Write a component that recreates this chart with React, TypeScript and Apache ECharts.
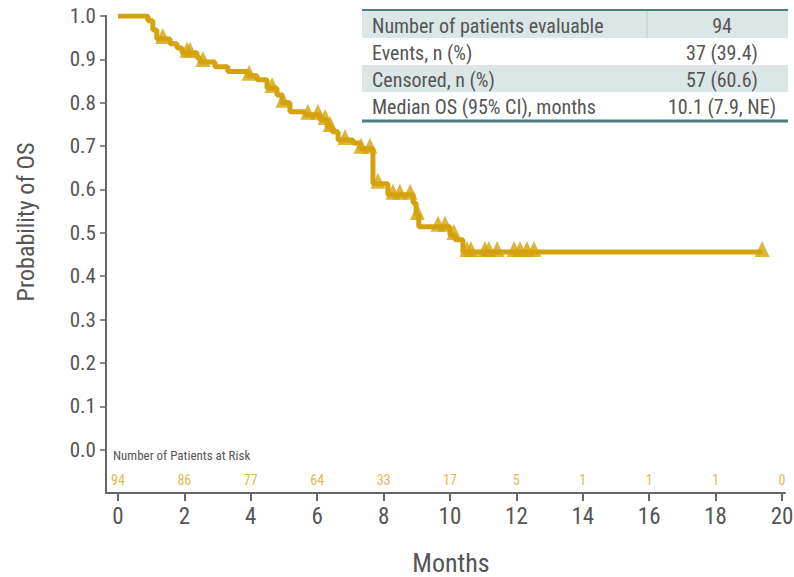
import React, { useEffect, useRef } from "react";
import * as echarts from "echarts";

// Kaplan-Meier steps: time (months) at which survival drops, and survival after the drop
const eventTimes = [0.9, 1.05, 1.17, 1.57, 1.78, 1.93, 2.38, 2.47, 2.92, 3.31, 3.92, 4.19, 4.49, 4.79, 4.94, 5.18, 5.63, 6.08, 6.3, 6.45, 6.63, 7.08, 7.29, 7.68, 8.13, 8.89, 8.98, 9.06, 10.0, 10.15, 10.39];
const eventSurv = [0.989, 0.968, 0.947, 0.936, 0.926, 0.915, 0.904, 0.894, 0.883, 0.872, 0.862, 0.853, 0.834, 0.818, 0.8, 0.779, 0.772, 0.76, 0.744, 0.733, 0.714, 0.707, 0.694, 0.613, 0.588, 0.569, 0.541, 0.514, 0.495, 0.484, 0.456];
const lastFollowUp = 19.4;
// Censored observations (months)
const censorTimes = [1.35, 2.08, 2.17, 2.56, 3.95, 4.64, 4.97, 5.72, 6.02, 6.24, 6.39, 6.84, 7.32, 7.59, 7.83, 8.28, 8.49, 8.8, 9.02, 9.64, 9.85, 10.12, 10.51, 10.63, 11.05, 11.17, 11.42, 11.93, 12.11, 12.32, 12.53, 19.4];

const xTicks = [0, 2, 4, 6, 8, 10, 12, 14, 16, 18, 20];
const yTicks = [0, 0.1, 0.2, 0.3, 0.4, 0.5, 0.6, 0.7, 0.8, 0.9, 1.0];
const atRiskTimes = [0, 2, 4, 6, 8, 10, 12, 14, 16, 18, 20];
const atRiskCounts = [94, 86, 77, 64, 33, 17, 5, 1, 1, 1, 0];

const tableLabels = ["Number of patients evaluable", "Events, n (%)", "Censored, n (%)", "Median OS (95% CI), months"];
const tableValues = ["94", "37 (39.4)", "57 (60.6)", "10.1 (7.9, NE)"];

const GOLD = "#d4a20c";
const GRAY = "#555555";
const AXIS = "#666666";
const TEAL = "#4a7f80";
const SHADE = "#dbe6e6";
const FONT = "'Liberation Sans Narrow', 'Roboto Condensed', 'Arial Narrow', sans-serif";

function survAt(t: number): number {
  let s = 1;
  for (let i = 0; i < eventTimes.length; i++) if (eventTimes[i] <= t) s = eventSurv[i];
  return s;
}

export default function App() {
  const ref = useRef<HTMLDivElement>(null);
  useEffect(() => {
    if (!ref.current) return;
    const chart = echarts.init(ref.current, null, { renderer: "svg" });
    const stepData: number[][] = [[0, 1]];
    eventTimes.forEach((t, i) => stepData.push([t, eventSurv[i]]));
    stepData.push([lastFollowUp, survAt(lastFollowUp)]);
    const censorData = censorTimes.map((t) => [t, survAt(t)]);
    const riskData = atRiskTimes.map((t, i) => [t, -0.069, atRiskCounts[i]]);

    const rowTop = [11, 38, 65, 92];
    const rowH = 27;
    const graphics: any[] = [];
    [0, 2].forEach((r) =>
      graphics.push({ type: "rect", shape: { x: 362, y: rowTop[r], width: 426, height: rowH }, style: { fill: SHADE }, silent: true })
    );
    graphics.push({ type: "line", shape: { x1: 647, y1: rowTop[0], x2: 647, y2: rowTop[0] + rowH }, style: { stroke: "#bcd0d0", lineWidth: 1 } });
    graphics.push({ type: "line", shape: { x1: 362, y1: 10, x2: 788, y2: 10 }, style: { stroke: TEAL, lineWidth: 2 } });
    graphics.push({ type: "line", shape: { x1: 362, y1: 121, x2: 788, y2: 121 }, style: { stroke: TEAL, lineWidth: 3 } });
    tableLabels.forEach((lab, i) => {
      graphics.push({ type: "text", x: 372, y: rowTop[i] + rowH / 2 + 1, style: { text: lab, fill: GRAY, font: `20px ${FONT}`, align: "left", verticalAlign: "middle" } });
      graphics.push({ type: "text", x: 722, y: rowTop[i] + rowH / 2 + 1, style: { text: tableValues[i], fill: GRAY, font: `20px ${FONT}`, align: "center", verticalAlign: "middle" } });
    });
    graphics.push({ type: "text", x: 113, y: 455, style: { text: "Number of Patients at Risk", fill: GRAY, font: `13px ${FONT}`, align: "left", verticalAlign: "middle" } });
    graphics.push({ type: "text", x: 26, y: 222, rotation: Math.PI / 2, style: { text: "Probability of OS", fill: GRAY, font: `24px ${FONT}`, align: "center", verticalAlign: "middle" } });
    graphics.push({ type: "text", x: 451, y: 563, style: { text: "Months", fill: GRAY, font: `26px ${FONT}`, align: "center", verticalAlign: "middle" } });

    chart.setOption({
      animation: false,
      grid: { left: 106, right: 9, top: 16, bottom: 84, containLabel: false, outerBoundsMode: "none" },
      xAxis: {
        type: "value",
        min: -0.36,
        max: 20.09,
        splitLine: { show: false },
        axisLine: { show: true, onZero: false, lineStyle: { color: AXIS, width: 2 } },
        axisTick: { show: true, customValues: xTicks, length: 8, lineStyle: { color: AXIS, width: 2 } },
        axisLabel: { customValues: xTicks, color: GRAY, fontSize: 23, fontFamily: FONT, margin: 12 },
      },
      yAxis: {
        type: "value",
        min: -0.1,
        max: 1.0,
        splitLine: { show: false },
        axisLine: { show: true, onZero: false, lineStyle: { color: AXIS, width: 2 } },
        axisTick: { show: true, customValues: yTicks, length: 6, lineStyle: { color: AXIS, width: 1.5 } },
        axisLabel: { customValues: yTicks, color: GRAY, fontSize: 21, fontFamily: FONT, margin: 10, formatter: (v: number) => v.toFixed(1) },
      },
      graphic: graphics,
      series: [
        {
          type: "line",
          step: "end",
          data: stepData,
          symbol: "none",
          lineStyle: { color: GOLD, width: 5 },
          silent: true,
          z: 2,
        },
        {
          type: "scatter",
          data: censorData,
          symbol: "triangle",
          symbolSize: [15, 16],
          symbolOffset: [0, -3],
          itemStyle: { color: GOLD },
          silent: true,
          z: 3,
        },
        {
          type: "scatter",
          data: riskData,
          symbolSize: 0,
          silent: true,
          label: {
            show: true,
            position: "inside",
            formatter: (p: any) => String(p.value[2]),
            color: "#d9a520",
            fontSize: 14,
            fontFamily: FONT,
          },
        },
      ],
    });
    return () => chart.dispose();
  }, []);
  return <div ref={ref} style={{ width: 794, height: 577, position: "absolute", left: 0, top: 0 }} />;
}
